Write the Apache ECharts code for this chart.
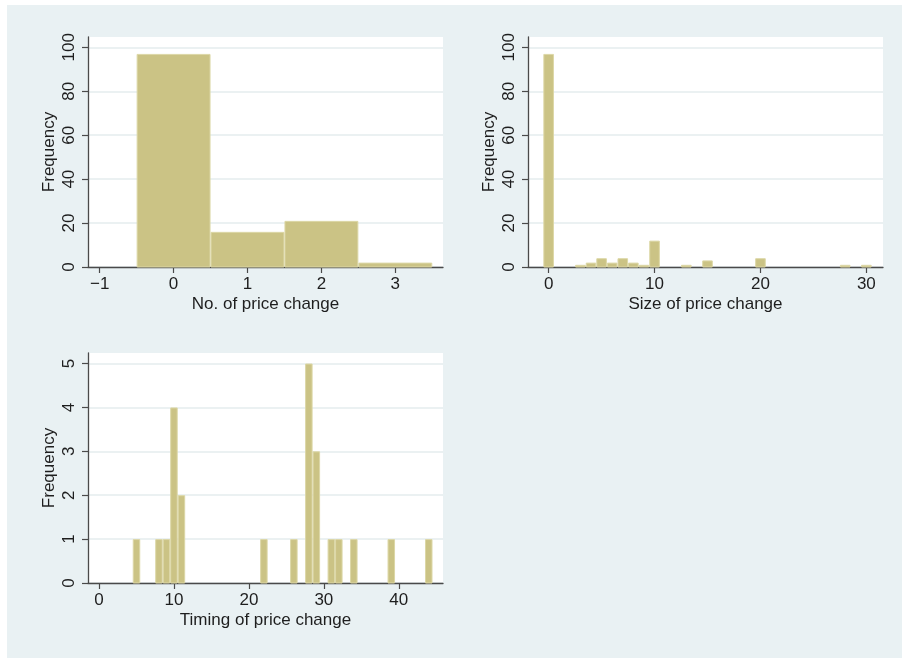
<!DOCTYPE html>
<html>
<head>
<meta charset="utf-8">
<script src="https://cdn.jsdelivr.net/npm/echarts@6/dist/echarts.min.js"></script>
<style>
  html, body { margin: 0; padding: 0; background: #ffffff; }
  #wrap { position: relative; width: 902px; height: 658px; overflow: hidden; }
  #bg { position: absolute; left: 7px; top: 5px; width: 895px; height: 653px; background: #e9f1f3; }
  #chart { position: absolute; left: 0; top: 0; width: 902px; height: 658px; }
</style>
</head>
<body>
<div id="wrap"><div id="bg"></div><div id="chart"></div></div>
<script>
// Number of price changes per item
const countValues = [0, 1, 2, 3];
const countFreq = [97, 16, 21, 2];

// Size of price change (bin centres, width 1)
const sizeValues = [0, 3, 4, 5, 6, 7, 8, 9, 10, 13, 15, 20, 28, 30];
const sizeFreq = [97, 1, 2, 4, 2, 4, 2, 1, 12, 1, 3, 4, 1, 1];

// Timing of price change (bin centres, width 1)
const timingValues = [5, 8, 9, 10, 11, 22, 26, 28, 29, 31, 32, 34, 39, 44];
const timingFreq = [1, 1, 1, 4, 2, 1, 1, 5, 3, 1, 1, 1, 1, 1];

// Tick labels
const countXTicks = [-1, 0, 1, 2, 3];
const sizeXTicks = [0, 10, 20, 30];
const timingXTicks = [0, 10, 20, 30, 40];
const freqTicksLarge = [0, 20, 40, 60, 80, 100];
const freqTicksSmall = [0, 1, 2, 3, 4, 5];

const BIN_WIDTH = 1;
const FONT = "'Liberation Sans', Arial, Helvetica, sans-serif";
const FONT_SIZE = 17;
const TEXT = '#1e1e1e';
const AXIS = '#4a4a4a';
const GRIDLINE = '#e4ecee';
const FILL = '#cbc385';
const EDGE = '#dcd7a6';

function pairs(xs, ys) { return xs.map((x, i) => [x, ys[i]]); }

function histSeries(idx, data) {
  return {
    type: 'custom',
    xAxisIndex: idx,
    yAxisIndex: idx,
    data: data,
    encode: { x: 0, y: 1 },
    renderItem: function (params, api) {
      const x = api.value(0), y = api.value(1);
      const p0 = api.coord([x - BIN_WIDTH / 2, y]);
      const p1 = api.coord([x + BIN_WIDTH / 2, 0]);
      return {
        type: 'rect',
        shape: { x: p0[0] + 0.5, y: p0[1] + 0.5, width: p1[0] - p0[0] - 1, height: p1[1] - p0[1] - 0.5 },
        style: { fill: FILL, stroke: EDGE, lineWidth: 1 }
      };
    }
  };
}

function xAxis(idx, min, max, ticks, name) {
  return {
    type: 'value', gridIndex: idx, min: min, max: max,
    name: name, nameLocation: 'middle', nameGap: 29,
    nameTextStyle: { fontFamily: FONT, fontSize: FONT_SIZE, color: TEXT },
    axisLine: { show: true, onZero: false, lineStyle: { color: AXIS, width: 1.3 } },
    axisTick: { show: true, length: 6, customValues: ticks, lineStyle: { color: AXIS, width: 1.2 } },
    axisLabel: { customValues: ticks, margin: 9, fontFamily: FONT, fontSize: FONT_SIZE, color: TEXT,
      formatter: v => String(v).replace('-', '\u2212') },
    splitLine: { show: false }
  };
}

function yAxis(idx, max, ticks) {
  return {
    type: 'value', gridIndex: idx, min: 0, max: max,
    name: 'Frequency', nameLocation: 'middle', nameGap: 30,
    nameTextStyle: { fontFamily: FONT, fontSize: FONT_SIZE, color: TEXT },
    axisLine: { show: true, onZero: false, lineStyle: { color: AXIS, width: 1.3 } },
    axisTick: { show: true, length: 6, customValues: ticks, lineStyle: { color: AXIS, width: 1.2 } },
    axisLabel: { customValues: ticks, rotate: 90, margin: 10, fontFamily: FONT, fontSize: FONT_SIZE, color: TEXT },
    splitLine: { show: true, lineStyle: { color: GRIDLINE, width: 1.5 } }
  };
}

const chart = echarts.init(document.getElementById('chart'), null, { renderer: 'canvas' });

chart.setOption({
  backgroundColor: 'transparent',
  animation: false,
  grid: [
    { left: 88, top: 37, width: 355, height: 230, show: true, backgroundColor: '#ffffff', borderWidth: 0 },
    { left: 528, top: 37, width: 355, height: 230, show: true, backgroundColor: '#ffffff', borderWidth: 0 },
    { left: 88, top: 353, width: 355, height: 230, show: true, backgroundColor: '#ffffff', borderWidth: 0 }
  ],
  xAxis: [
    xAxis(0, -1.158, 3.645, countXTicks, 'No. of price change'),
    xAxis(1, -1.95, 31.57, sizeXTicks, 'Size of price change'),
    xAxis(2, -1.47, 45.9, timingXTicks, 'Timing of price change')
  ],
  yAxis: [
    yAxis(0, 104.7, freqTicksLarge),
    yAxis(1, 104.7, freqTicksLarge),
    yAxis(2, 5.24, freqTicksSmall)
  ],
  series: [
    histSeries(0, pairs(countValues, countFreq)),
    histSeries(1, pairs(sizeValues, sizeFreq)),
    histSeries(2, pairs(timingValues, timingFreq))
  ]
});
</script>
</body>
</html>
